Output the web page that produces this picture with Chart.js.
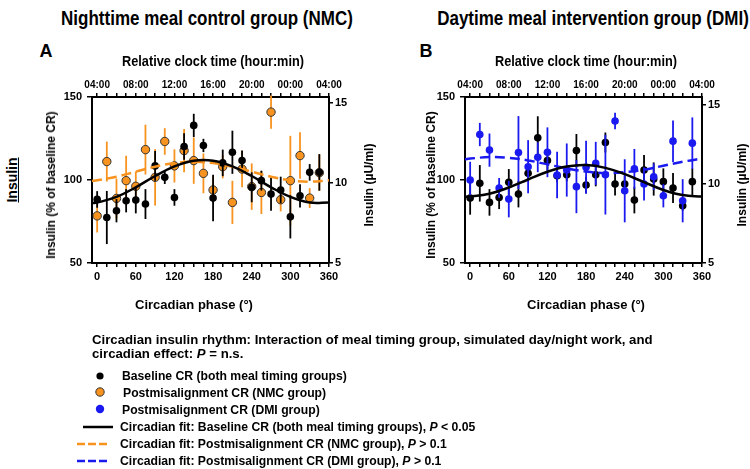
<!DOCTYPE html>
<html>
<head>
<meta charset="utf-8">
<script src="https://cdn.jsdelivr.net/npm/chart.js@4.4.1/dist/chart.umd.min.js"></script>
<style>
body { margin:0; width:750px; height:469px; background:#fff; position:relative; overflow:hidden;
       font-family:'Liberation Sans', Arial, sans-serif; font-weight:bold; color:#000; }
.abs { position:absolute; white-space:nowrap; line-height:1; }
.narrow { font-family:'Liberation Sans Narrow', 'Arial Narrow', 'Liberation Sans', sans-serif; }
.ctr { transform:translate(-50%, -50%); }
.ctr-narrow { transform:translate(-50%, -50%) scaleX(0.85); }
.rot { transform:translate(-50%, -50%) rotate(-90deg); }
.panel { position:absolute; top:0; width:380px; height:320px; }
.legend-row { position:absolute; left:0; white-space:nowrap; font-size:12.2px; line-height:1; transform:translateY(-50%); }
</style>
</head>
<body>

<!-- titres des panneaux -->
<div class="abs narrow ctr-narrow" style="left:207px; top:18px; font-size:20px;">Nighttime meal control group (NMC)</div>
<div class="abs narrow ctr-narrow" style="left:593px; top:18px; font-size:20px;">Daytime meal intervention group (DMI)</div>
<div class="abs ctr" style="left:46px; top:51px; font-size:18px;">A</div>
<div class="abs ctr" style="left:426px; top:51px; font-size:18px;">B</div>
<div class="abs rot" style="left:12px; top:180px; font-size:14px; text-decoration:underline;">Insulin</div>

<div class="panel" style="left:0;"><canvas id="chartA" width="380" height="320"></canvas></div>
<div class="panel" style="left:373px;"><canvas id="chartB" width="380" height="320"></canvas></div>

<!-- titres des axes -->
<div class="abs narrow ctr-narrow" style="left:213px; top:60px; font-size:15px;">Relative clock time (hour:min)</div>
<div class="abs narrow ctr-narrow" style="left:586px; top:60px; font-size:15px;">Relative clock time (hour:min)</div>
<div class="abs ctr" style="left:194px; top:304px; font-size:13px;">Circadian phase (°)</div>
<div class="abs ctr" style="left:586px; top:304px; font-size:13px;">Circadian phase (°)</div>
<div class="abs rot" style="left:51px; top:185px; font-size:12px;">Insulin (% of baseline CR)</div>
<div class="abs rot" style="left:431px; top:185px; font-size:12px;">Insulin (% of baseline CR)</div>
<div class="abs rot" style="left:369px; top:185px; font-size:12px;">Insulin (µU/ml)</div>
<div class="abs rot" style="left:742px; top:185px; font-size:12px;">Insulin (µU/ml)</div>

<!-- légende -->
<div style="position:absolute; left:0; top:0; width:750px; height:469px;">
  <div class="legend-row" style="left:92px; top:340px; font-size:13.2px;">Circadian insulin rhythm: Interaction of meal timing group, simulated day/night work, and</div>
  <div class="legend-row" style="left:92px; top:354px; font-size:13.2px;">circadian effect: <i>P</i> = n.s.</div>
  <svg style="position:absolute; left:0; top:0;" width="130" height="469">
    <circle cx="100" cy="376" r="3.6" fill="#000"/>
    <circle cx="100" cy="392" r="4.2" fill="#F7931E" stroke="#333" stroke-width="1"/>
    <circle cx="100" cy="409" r="4.2" fill="#1a1af0"/>
    <line x1="83" y1="427" x2="113" y2="427" stroke="#000" stroke-width="2.5"/>
    <line x1="77" y1="444" x2="107" y2="444" stroke="#F7931E" stroke-width="2.5" stroke-dasharray="8 3"/>
    <line x1="77" y1="461" x2="107" y2="461" stroke="#1a1af0" stroke-width="2.5" stroke-dasharray="8 3"/>
  </svg>
  <div class="legend-row" style="left:122px; top:376px;">Baseline CR (both meal timing groups)</div>
  <div class="legend-row" style="left:123px; top:393px;">Postmisalignment CR (NMC group)</div>
  <div class="legend-row" style="left:122px; top:410px;">Postmisalignment CR (DMI group)</div>
  <div class="legend-row" style="left:120px; top:427px;">Circadian fit: Baseline CR (both meal timing groups), <i>P</i> &lt; 0.05</div>
  <div class="legend-row" style="left:120px; top:444px;">Circadian fit: Postmisalignment CR (NMC group), <i>P</i> &gt; 0.1</div>
  <div class="legend-row" style="left:120px; top:461px;">Circadian fit: Postmisalignment CR (DMI group), <i>P</i> &gt; 0.1</div>
</div>

<script>
// phases circadiennes des prélèvements (degrés)
const phase = [0, 15, 30, 45, 60, 75, 90, 105, 120, 135, 150, 165,
               180, 195, 210, 225, 240, 255, 270, 285, 300, 315, 330, 345];

// groupe NMC : moyennes et erreurs (% de la CR de base)
const nmcBaseMean = [88.3, 77.4, 81.5, 87.5, 87.9, 85.5, 108.5, 101.6, 89.5, 120.2, 132.9, 120.8,
                     89.1, 110.3, 116.7, 111.7, 95.6, 99.6, 91.5, 94.0, 77.8, 90.5, 104.6, 104.6];
const nmcBaseErr  = [5, 16, 7, 7, 8, 9, 9, 4, 5, 8, 7, 4, 14, 8, 13, 6, 9, 6, 10, 8, 13, 7, 5, 11];
const nmcPostMean = [78.4, 111.1, 88.9, 99.6, 96.2, 118.3, 101.6, 123.2, 108.5, 117.7, 111.7, 104.0,
                     94.0, 108.0, 86.5, 106.6, 96.0, 92.5, 140.9, 88.1, 99.6, 114.7, 89.1, 104.4];
const nmcPostErr  = [10, 12, 12, 15, 9, 15, 17, 8, 10, 13, 14, 12, 8, 7, 13, 11, 14, 13, 10, 7, 27, 14, 6, 11];

// groupe DMI
const dmiBaseMean = [89.1, 98.0, 86.5, 89.5, 98.6, 91.5, 104.0, 125.4, 111.7, 102.6, 103.2, 117.7,
                     97.0, 103.2, 122.6, 97.6, 97.6, 87.9, 106.0, 100.6, 99.0, 95.2, 84.5, 99.0];
const dmiBaseErr  = [10, 11, 8, 7, 8, 8, 4, 13, 6, 4, 4, 10, 5, 7, 6, 7, 5, 8, 9, 10, 8, 9, 3, 8];
const dmiPostMean = [100.0, 127.4, 118.0, 95.2, 88.5, 116.5, 108.0, 113.7, 116.7, 103.0, 106.0, 96.0,
                     107.7, 110.0, 103.2, 135.5, 93.5, 106.7, 97.6, 102.0, 90.5, 123.4, 87.5, 122.2];
const dmiPostErr  = [11, 7, 10, 6, 11, 22, 16, 9, 15, 14, 16, 16, 16, 13, 24, 5, 19, 12, 10, 8, 7, 12.5, 13, 15.5];

// courbes d'ajustement circadien
const fitPhase   = [-8, 0, 30, 60, 90, 120, 150, 180, 210, 240, 270, 300, 330, 360];
const nmcBaseFit = [86.1, 86.4, 89.8, 95.6, 102.4, 108.2, 111.6, 111.6, 108.2, 102.4, 95.6, 89.8, 86.4, 86.4];
const nmcPostFit = [99.4, 99.8, 102.0, 105.0, 108.0, 110.2, 111.0, 110.2, 108.0, 105.0, 102.0, 99.8, 99.0, 99.8];
const dmiBaseFit = [90.0, 90.0, 91.7, 95.5, 100.3, 105.0, 108.1, 109.0, 107.3, 103.5, 98.7, 94.0, 90.9, 90.0];
const dmiPostFit = [112.5, 112.9, 113.8, 113.3, 111.8, 109.4, 107.0, 105.1, 104.2, 104.7, 106.2, 108.6, 111.0, 112.9];

// graduations
const phaseLabels = [0, 60, 120, 180, 240, 300, 360];
const clockLabels = ['04:00', '08:00', '12:00', '16:00', '20:00', '00:00', '04:00'];
const leftTicks  = [50, 100, 150];
const rightTicks = [5, 10, 15];

const BLACK = '#000000';
const ORANGE = '#F7931E';
const BLUE = '#1a1af0';
const SANS = "'Liberation Sans', Arial, sans-serif";
const NARROW = "'Liberation Sans Narrow', 'Arial Narrow', 'Liberation Sans', sans-serif";

// graduations mineures toutes les 15° (une par heure)
const minorTicks = [];
for (let v = 0; v <= 360; v += 15) minorTicks.push(v);

function toPoints(xs, ys) {
    return xs.map((x, i) => ({ x: x, y: ys[i] }));
}

// barres d'erreur verticales, dessinées sous les marqueurs de chaque série
const errorBars = {
    id: 'errorBars',
    beforeDatasetDraw(chart, args) {
        const ds = chart.data.datasets[args.index];
        if (!ds.errors) return;
        const ctx = chart.ctx;
        const xs = chart.scales.x;
        const ys = chart.scales.y;
        ctx.save();
        ctx.strokeStyle = ds.barColor;
        ctx.lineWidth = 1.8;
        ds.data.forEach((p, i) => {
            const px = xs.getPixelForValue(p.x);
            ctx.beginPath();
            ctx.moveTo(px, ys.getPixelForValue(p.y - ds.errors[i]));
            ctx.lineTo(px, ys.getPixelForValue(p.y + ds.errors[i]));
            ctx.stroke();
        });
        ctx.restore();
    }
};

function pointSet(means, errs, color, outlined) {
    return {
        data: toPoints(phase, means),
        errors: errs,
        barColor: color,
        pointRadius: outlined ? 4.2 : 3.8,
        pointBackgroundColor: color,
        pointBorderColor: outlined ? '#333' : color,
        pointBorderWidth: outlined ? 1 : 0,
        showLine: false
    };
}

function fitSet(values, color, dashed) {
    return {
        data: toPoints(fitPhase, values),
        showLine: true,
        borderColor: color,
        borderWidth: 2.5,
        borderDash: dashed ? [10, 5] : [],
        tension: 0.4,
        pointRadius: 0
    };
}

function axisStyle() {
    return {
        grid: { drawOnChartArea: false, drawTicks: true, tickLength: 4, color: BLACK, lineWidth: 1.5 },
        border: { display: true, color: BLACK, width: 2 }
    };
}

function renderPanel(canvas, datasets, rightMax) {
    const tickFont = { family: SANS, size: 11, weight: 'bold' };
    new Chart(canvas, {
        type: 'scatter',
        data: { datasets: datasets },
        options: {
            responsive: false,
            animation: false,
            events: [],
            layout: { padding: { left: 40, right: 0, top: 50, bottom: 0 } },
            plugins: { legend: { display: false }, tooltip: { enabled: false } },
            scales: {
                x: {
                    type: 'linear', position: 'bottom', min: -8, max: 360,
                    afterBuildTicks: s => { s.ticks = minorTicks.map(v => ({ value: v })); },
                    afterFit: s => { s.height = 57; },
                    ticks: {
                        autoSkip: false, maxRotation: 0, padding: 3, color: BLACK, font: tickFont,
                        callback: v => phaseLabels.includes(v) ? String(v) : ''
                    },
                    ...axisStyle()
                },
                x2: {
                    type: 'linear', position: 'top', min: -8, max: 360,
                    afterBuildTicks: s => { s.ticks = minorTicks.map(v => ({ value: v })); },
                    afterFit: s => { s.height = 47; },
                    ticks: {
                        autoSkip: false, maxRotation: 0, padding: 2, color: BLACK,
                        font: { family: NARROW, size: 10, weight: 'bold' },
                        callback: v => v % 60 === 0 ? clockLabels[v / 60] : ''
                    },
                    ...axisStyle()
                },
                y: {
                    type: 'linear', position: 'left', min: 50, max: 150,
                    afterBuildTicks: s => { s.ticks = leftTicks.map(v => ({ value: v })); },
                    afterFit: s => { s.width = 52; },
                    ticks: { padding: 5, color: BLACK, font: tickFont },
                    ...axisStyle(),
                    grid: { drawOnChartArea: false, drawTicks: true, tickLength: 5, color: BLACK, lineWidth: 1.5 }
                },
                y2: {
                    type: 'linear', position: 'right', min: 5, max: rightMax,
                    afterBuildTicks: s => { s.ticks = rightTicks.map(v => ({ value: v })); },
                    afterFit: s => { s.width = 51; },
                    ticks: { padding: 2, color: BLACK, font: tickFont },
                    ...axisStyle()
                }
            }
        },
        plugins: [errorBars]
    });
}

document.addEventListener('DOMContentLoaded', function() {
    // panneau A : le premier jeu de données est dessiné au-dessus
    renderPanel(document.getElementById('chartA'), [
        fitSet(nmcBaseFit, BLACK, false),
        fitSet(nmcPostFit, ORANGE, true),
        pointSet(nmcBaseMean, nmcBaseErr, BLACK, false),
        pointSet(nmcPostMean, nmcPostErr, ORANGE, true)
    ], 15.35);

    // panneau B
    renderPanel(document.getElementById('chartB'), [
        fitSet(dmiBaseFit, BLACK, false),
        fitSet(dmiPostFit, BLUE, true),
        pointSet(dmiPostMean, dmiPostErr, BLUE, false),
        pointSet(dmiBaseMean, dmiBaseErr, BLACK, false)
    ], 15.5);
});
</script>
</body>
</html>
